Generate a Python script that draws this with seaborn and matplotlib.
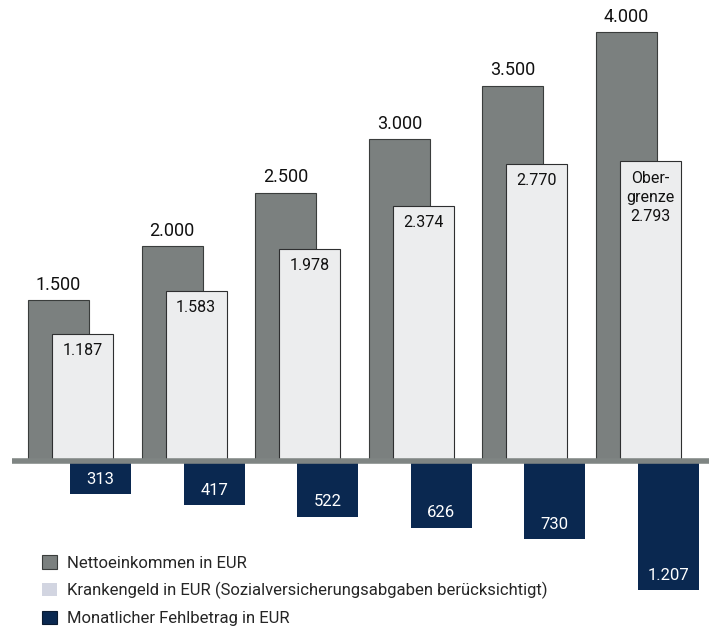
import matplotlib
matplotlib.use('Agg')
import matplotlib.pyplot as plt
from matplotlib.patches import Patch
import seaborn as sns
import numpy as np

netto = [1500, 2000, 2500, 3000, 3500, 4000]
krankengeld = [1187, 1583, 1978, 2374, 2770, 2793]
fehlbetrag = [313, 417, 522, 626, 730, 1207]
netto_labels = ['1.500', '2.000', '2.500', '3.000', '3.500', '4.000']
kg_labels = ['1.187', '1.583', '1.978', '2.374', '2.770', 'Ober-\ngrenze\n2.793']
fb_labels = ['313', '417', '522', '626', '730', '1.207']
legend_labels = ['Nettoeinkommen in EUR',
                 'Krankengeld in EUR (Sozialversicherungsabgaben berücksichtigt)',
                 'Monatlicher Fehlbetrag in EUR']

sns.set_style('white')
plt.rcParams['font.family'] = ['Roboto', 'DejaVu Sans']

c_dark = '#7b807f'
c_light = '#ecedee'
c_navy = '#0a2850'

fig = plt.figure(figsize=(7.09, 6.28), dpi=100)
ax = fig.add_axes([0, 0, 1, 1])

w = 0.537
idx = np.arange(len(netto))
pos_dark = idx + w / 2
pos_light = idx + 0.211 + w / 2
pos_navy = idx + 0.37 + w / 2

sns.barplot(x=pos_dark, y=netto, native_scale=True, width=w, color=c_dark,
            saturation=1, edgecolor='#3a3d3c', linewidth=0.8, ax=ax)
sns.barplot(x=pos_light, y=krankengeld, native_scale=True, width=w, color=c_light,
            saturation=1, edgecolor='#2e2f30', linewidth=0.8, ax=ax)
sns.barplot(x=pos_navy, y=[-v for v in fehlbetrag], native_scale=True, width=w,
            color=c_navy, saturation=1, linewidth=0, ax=ax)

ax.axhline(0, xmin=12 / 709, xmax=1, color='#7f8583', linewidth=4, zorder=5,
           solid_capstyle='butt')

for x, v, t in zip(pos_dark, netto, netto_labels):
    ax.text(x, v + 60, t, ha='center', va='bottom', fontsize=13, color='#111111')
for x, v, t in zip(pos_light, krankengeld, kg_labels):
    ax.text(x, v - 85, t, ha='center', va='top', fontsize=11.5, color='#111111',
            linespacing=1.35)
for x, v, t in zip(pos_navy, fehlbetrag, fb_labels):
    ax.text(x, -v + 70, t, ha='center', va='bottom', fontsize=12, color='white')

ax.set_xlim(-0.2465, 5.995)
ax.set_ylim(-1560, 4299)
ax.axis('off')

handles = [Patch(facecolor=c_dark, edgecolor='#3a3d3c', linewidth=0.8),
           Patch(facecolor='#d2d5e1', edgecolor='none'),
           Patch(facecolor=c_navy, edgecolor='#0a1a30', linewidth=0.8)]
ax.legend(handles, legend_labels, loc='upper left', bbox_to_anchor=(0.05, 0.127),
          frameon=False, fontsize=12, handlelength=0.9, handleheight=0.9,
          handletextpad=0.6, labelspacing=0.68, borderaxespad=0)

fig.savefig('out.png', dpi=100)
